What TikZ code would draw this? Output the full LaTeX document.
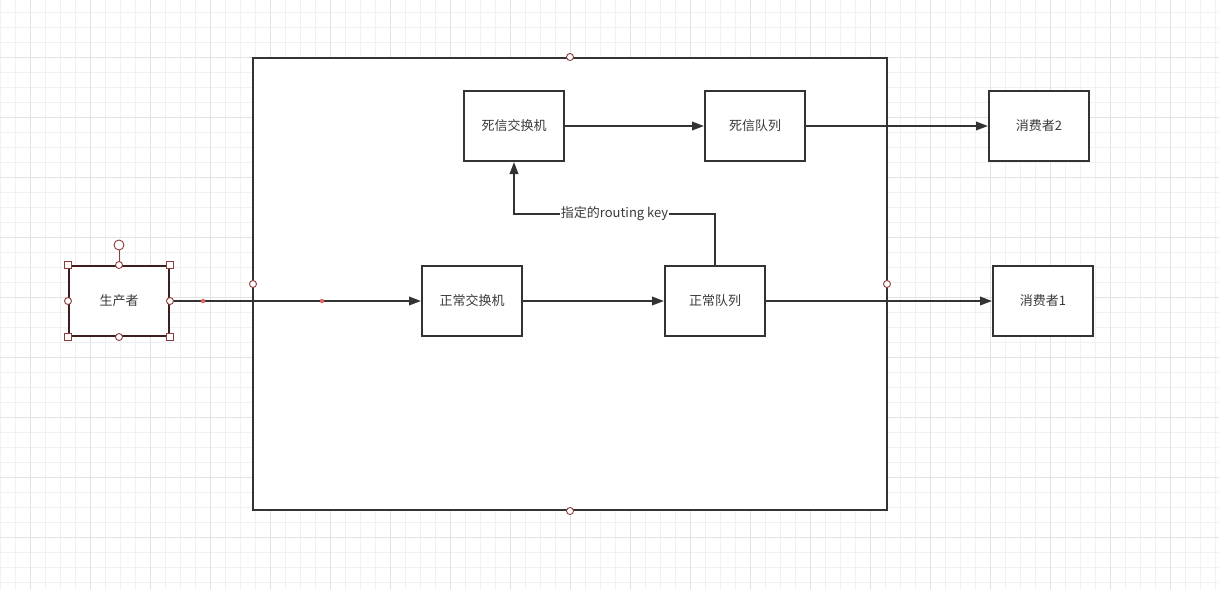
\documentclass[tikz,border=0pt]{standalone}
\usepackage{fontspec}
\newfontfamily\cjk{Noto Sans CJK SC}
\usetikzlibrary{arrows.meta}
\definecolor{ink}{HTML}{333333}
\definecolor{txt}{HTML}{3A3A3A}
\definecolor{gridminor}{HTML}{F1F1F1}
\definecolor{gridmajor}{HTML}{E3E3E3}
\definecolor{selborder}{HTML}{3C1E1E}
\definecolor{handle}{HTML}{8E3B3B}
\definecolor{reddot}{HTML}{E06666}
\tikzset{
  box/.style={draw=ink, line width=2pt, fill=white, minimum width=100pt, minimum height=70pt, inner sep=0pt, font=\cjk\fontsize{13pt}{15pt}\selectfont, text=txt},
  arr/.style={draw=ink, line width=2pt, -{Triangle[length=12pt,width=8.5pt]}},
  hcirc/.style={circle, draw=handle, fill=white, line width=0.9pt, minimum size=7pt, inner sep=0pt},
  hsq/.style={rectangle, draw=handle, fill=white, line width=0.9pt, minimum size=7pt, inner sep=0pt},
  rdot/.style={circle, fill=reddot, minimum size=4.5pt, inner sep=0pt},
  lbl/.style={fill=white, inner sep=1pt, font=\cjk\fontsize{13pt}{15pt}\selectfont, text=txt}
}
\begin{document}
\begin{tikzpicture}[x=1pt,y=-1pt]
\useasboundingbox (0,0) rectangle (1219,590);
\fill[white] (0,0) rectangle (1219,590);
% grid
\foreach \gx in {0,15,...,1215} \draw[gridminor, line width=1pt] (\gx+0.5,0) -- (\gx+0.5,590);
\foreach \gy in {12,27,...,590} \draw[gridminor, line width=1pt] (0,\gy+0.5) -- (1219,\gy+0.5);
\foreach \gx in {30,90,...,1215} \draw[gridmajor, line width=1pt] (\gx+0.5,0) -- (\gx+0.5,590);
\foreach \gy in {57,117,...,590} \draw[gridmajor, line width=1pt] (0,\gy+0.5) -- (1219,\gy+0.5);
% container
\node[draw=ink, line width=2pt, fill=white, minimum width=634pt, minimum height=452pt, inner sep=0pt] (frame) at (570,284) {};
% nodes
\node[box] (dlx) at (514,126) {死信交换机};
\node[box] (dlq) at (755,126) {死信队列};
\node[box] (c2) at (1039,126) {消费者2};
\node[box] (nex) at (472,301) {正常交换机};
\node[box] (nq) at (715,301) {正常队列};
\node[box] (c1) at (1043,301) {消费者1};
\node[box, draw=selborder] (prod) at (119,301) {生产者};
% connectors
\draw[arr] (prod.east) -- (nex.west);
\draw[arr] (nex.east) -- (nq.west);
\draw[arr] (nq.east) -- (c1.west);
\draw[arr] (dlx.east) -- (dlq.west);
\draw[arr] (dlq.east) -- (c2.west);
\coordinate (bendR) at (715,214);
\coordinate (bendL) at (514,214);
\draw[arr] (nq.north) -- (bendR) -- node[lbl, pos=0.5] {指定的routing key} (bendL) -- (dlx.south);
% edge handles
\node[rdot] (wp1) at (203,301) {};
\node[rdot] (wp2) at (322,301) {};
% container handles
\node[hcirc] (ft) at (frame.north) {};
\node[hcirc] (fb) at (frame.south) {};
\node[hcirc] (fl) at (253,284) {};
\node[hcirc] (fr) at (887,284) {};
% selection handles on producer
\coordinate (rotc) at (119,245);
\draw[handle, line width=1pt] (119.5,266) -- (119.5,250);
\node[circle, draw=handle, fill=white, line width=0.9pt, minimum size=10pt, inner sep=0pt] (rot) at (rotc) {};
\node[hsq] at (prod.north west) {};
\node[hsq] at (prod.north east) {};
\node[hsq] at (prod.south west) {};
\node[hsq] at (prod.south east) {};
\node[hcirc] at (prod.north) {};
\node[hcirc] at (prod.south) {};
\node[hcirc] at (prod.west) {};
\node[hcirc] at (prod.east) {};
\end{tikzpicture}
\end{document}
